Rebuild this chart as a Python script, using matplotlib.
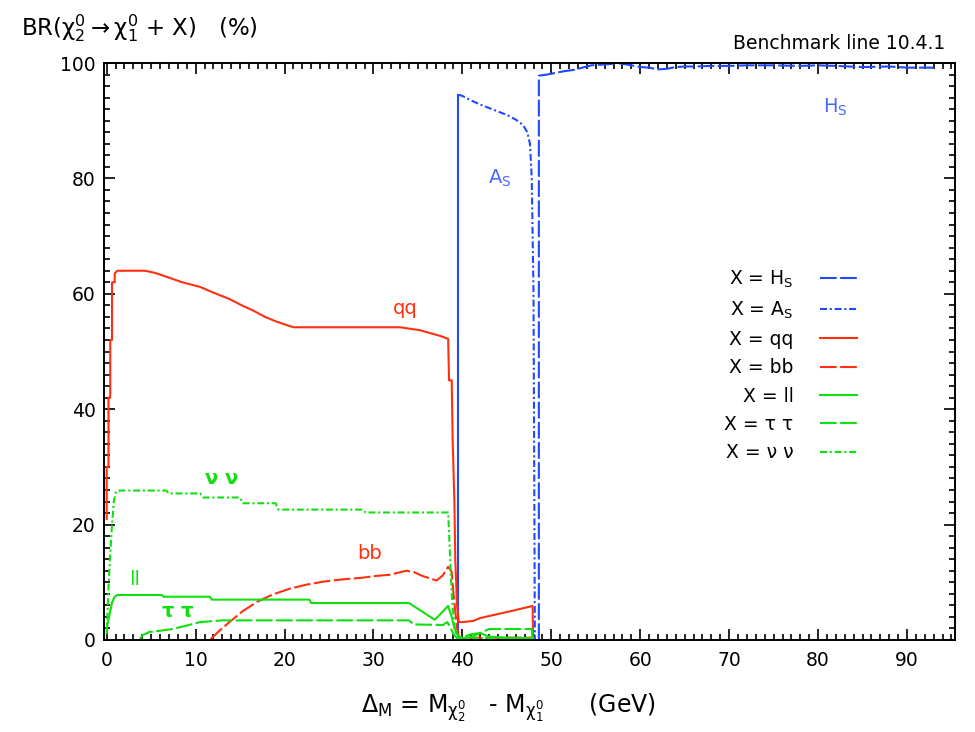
import matplotlib
matplotlib.use("Agg")
import matplotlib.pyplot as plt
from matplotlib.ticker import MultipleLocator

plt.rcParams['font.family'] = ['DejaVu Sans']
plt.rcParams['mathtext.fontset'] = 'dejavusans'
plt.rcParams['lines.scale_dashes'] = False

# ---- data: branching ratios (%) vs mass difference (GeV) ----
qq_x = [0.0, 0.0, 0.2, 0.2, 0.4, 0.4, 0.6, 0.6, 0.9, 0.9, 1.2, 4.3, 5.5, 7.0, 8.5,
        10.5, 12.0, 13.8, 15.2, 16.6, 17.8, 18.9, 20.0, 21.0, 33.0, 35.2, 37.5,
        38.4, 38.5, 38.8, 38.9, 39.1, 39.2, 39.4, 39.6, 40.0, 41.2, 42.0, 44.0,
        46.0, 47.9, 47.95]
qq_y = [21, 30, 30, 42, 42, 52, 52, 62, 62, 63.5, 64, 64, 63.6, 62.8, 62.0,
        61.2, 60.2, 59.1, 58.0, 57.0, 56.0, 55.3, 54.7, 54.2, 54.2, 53.7, 52.7,
        52.2, 45, 45, 35, 24, 14, 6, 3.1, 3.1, 3.3, 3.8, 4.5,
        5.2, 5.9, 0]

bb_x = [11.6, 12.6, 13.8, 15.3, 16.9, 18.7, 20.6, 22.5, 24.3, 26.5, 28.8, 30.3,
        31.8, 33.7, 34.5, 35.5, 37.1, 37.8, 38.4, 38.8, 39.0, 39.2, 39.4, 39.6,
        40.0, 44.0, 47.8, 47.9]
bb_y = [0, 1.5, 3.1, 5.0, 6.6, 7.9, 8.9, 9.6, 10.1, 10.5, 10.8, 11.1,
        11.3, 12.0, 11.8, 11.1, 10.3, 11.2, 12.7, 11.8, 8, 5, 2, 0.6,
        0.4, 0.4, 0.4, 0]

ll_x = [0, 0.2, 0.4, 0.6, 0.9, 1.2, 6.2, 6.4, 11.6, 11.8, 22.8, 23.0, 34.0,
        36.9, 38.4, 38.8, 39.1, 39.4, 39.8, 41, 42, 43, 45, 47.9, 48.0]
ll_y = [2, 3.5, 5, 6.5, 7.5, 7.8, 7.8, 7.5, 7.5, 7.0, 7.0, 6.4, 6.4,
        3.5, 5.9, 4, 2, 1, 0.3, 0.5, 1.2, 0.6, 0.4, 0.3, 0]

tau_x = [3.7, 4.0, 4.8, 6.0, 7.4, 9.0, 10.5, 13.0, 34.0, 34.5, 37.8, 38.3,
         38.7, 39.0, 39.4, 40, 41, 42, 43, 47.8, 47.9]
tau_y = [0, 0.8, 1.4, 1.6, 1.9, 2.5, 3.1, 3.4, 3.4, 2.7, 2.6, 3.1,
         2, 1, 0.3, 0.5, 1.0, 1.2, 1.9, 1.9, 0]

nunu_x = [0, 0.2, 0.4, 0.6, 0.8, 1.0, 1.2, 6.7, 7.0, 10.5, 10.8, 15.0, 15.3,
          19.0, 19.3, 28.8, 29.1, 38.4, 38.6, 38.8, 39.0, 39.2, 39.5, 40, 48]
nunu_y = [1, 9, 15, 20, 24, 25.5, 25.9, 25.9, 25.4, 25.4, 24.7, 24.7, 23.7,
          23.7, 22.6, 22.6, 22.1, 22.1, 15, 8, 4, 1.5, 0.5, 0.3, 0.3]

as_x = [39.55, 39.55, 40.0, 41.0, 42.0, 43.0, 44.0, 45.0, 46.0, 46.8, 47.3,
        47.6, 47.8, 47.9, 48.0, 48.1, 48.15]
as_y = [0, 94.5, 94.3, 93.5, 92.8, 92.2, 91.6, 91.0, 90.2, 89.3, 88.0,
        86.0, 80, 70, 60, 20, 0]

hs_x = [48.6, 48.6, 49.5, 50.5, 51.5, 52.5, 53.5, 54.5, 55.5, 56.5, 57.5, 59,
        60, 61, 62, 63, 64, 65, 66, 68, 70, 72, 75, 78, 80, 82, 85, 88, 90, 93]
hs_y = [0, 97.8, 98.0, 98.3, 98.6, 98.8, 99.2, 99.6, 99.7, 99.8, 100, 99.6,
        99.3, 99.2, 98.9, 99.0, 99.3, 99.4, 99.4, 99.5, 99.5, 99.6, 99.6, 99.5,
        99.6, 99.5, 99.3, 99.4, 99.2, 99.2]

xticks = [0, 10, 20, 30, 40, 50, 60, 70, 80, 90]
yticks = [0, 20, 40, 60, 80, 100]

RED = '#ff3010'
GREEN = '#10e010'
BLUE = '#2048ff'
LBLUE = '#4a68ff'

fig = plt.figure(figsize=(9.75, 7.32), dpi=100)
ax = fig.add_axes([0.1067, 0.1257, 0.8728, 0.7882])

lw = 1.5
LONG_DASH = (12, 2.5)
DASH_DOT = (5, 2, 1.5, 2)
l_hs, = ax.plot(hs_x, hs_y, color=BLUE, lw=lw, dashes=LONG_DASH, label='X = H$_\\mathregular{S}$')
# the steep onset of the A_S channel is drawn as one continuous stroke
ax.plot(as_x[:2], as_y[:2], color=BLUE, lw=lw)
l_as, = ax.plot(as_x[1:], as_y[1:], color=BLUE, lw=lw, dashes=DASH_DOT, label='X = A$_\\mathregular{S}$')
l_qq, = ax.plot(qq_x, qq_y, color=RED, lw=lw, label='X = qq')
l_bb, = ax.plot(bb_x, bb_y, color=RED, lw=lw, dashes=LONG_DASH, label='X = bb')
l_ll, = ax.plot(ll_x, ll_y, color=GREEN, lw=lw, label='X = ll')
l_tt, = ax.plot(tau_x, tau_y, color=GREEN, lw=lw, dashes=LONG_DASH, label='X = τ τ')
l_nn, = ax.plot(nunu_x, nunu_y, color=GREEN, lw=lw, dashes=DASH_DOT, label='X = ν ν')

ax.set_xlim(-0.3, 95.4)
ax.set_ylim(0, 100)
ax.set_xticks(xticks)
ax.set_yticks(yticks)
ax.xaxis.set_minor_locator(MultipleLocator(1))
ax.yaxis.set_minor_locator(MultipleLocator(2))
ax.tick_params(which='both', direction='in', top=True, right=True, labelsize=13.5, width=1.2)
ax.tick_params(which='major', length=8)
ax.tick_params(which='minor', length=4)
ax.tick_params(axis='x', which='major', pad=8)
ax.tick_params(axis='y', which='major', pad=6)
for s in ax.spines.values():
    s.set_linewidth(1.4)

leg = ax.legend(handles=[l_hs, l_as, l_qq, l_bb, l_ll, l_tt, l_nn],
                loc='upper left', bbox_to_anchor=(0.718, 0.66), frameon=False,
                borderpad=0, markerfirst=False, fontsize=13.5, handlelength=2.0,
                handletextpad=1.4, labelspacing=0.5)

# curve labels
lab = dict(fontsize=14, ha='center', va='center')
ax.text(33.6, 57.5, 'qq', color=RED, **lab)
ax.text(29.6, 15.0, 'bb', color=RED, **lab)
ax.text(3.1, 10.5, 'll', color=GREEN, **lab)
ax.text(8.0, 5.0, 'τ τ', color=GREEN, fontweight='bold', **lab)
ax.text(12.9, 28.0, 'ν ν', color=GREEN, fontweight='bold', **lab)
ax.text(44.2, 80.0, 'A$_\\mathregular{S}$', color=LBLUE, **lab)
ax.text(82.0, 92.3, 'H$_\\mathregular{S}$', color=LBLUE, **lab)

fig.text(0.022, 0.962, 'BR($\\mathregular{\\chi_2^0 \\rightarrow \\chi_1^0}$ + X)   (%)',
         fontsize=16.5, ha='left', va='center')
fig.text(0.969, 0.941, 'Benchmark line 10.4.1', fontsize=13.5, ha='right', va='center')
fig.text(0.522, 0.033, '$\\mathregular{\\Delta_M}$ = M$_{\\mathregular{\\chi_2^0}}$   - M$_{\\mathregular{\\chi_1^0}}$      (GeV)',
         fontsize=17, ha='center', va='center')

fig.savefig('out.png', dpi=100)
